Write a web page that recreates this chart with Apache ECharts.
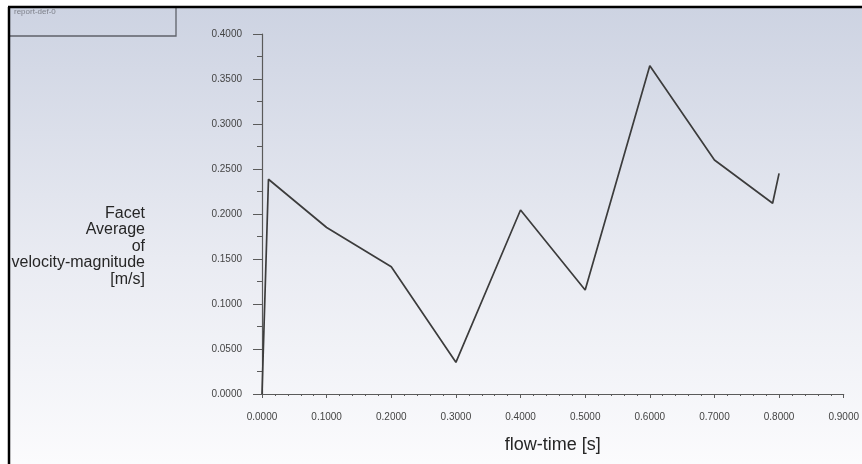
<!DOCTYPE html>
<html>
<head>
<meta charset="utf-8">
<style>
  html, body { margin: 0; padding: 0; background: #ffffff; }
  #chart { width: 862px; height: 464px; }
</style>
<script src="https://cdn.jsdelivr.net/npm/echarts@6/dist/echarts.min.js"></script>
</head>
<body>
<div id="chart"></div>
<script>
// Flow time samples [s] and the facet-averaged velocity magnitude [m/s]
const flowTime = [0.0, 0.01, 0.1, 0.2, 0.3, 0.4, 0.5, 0.6, 0.7, 0.79, 0.8];
const velocityMag = [0.0, 0.2386, 0.185, 0.1414, 0.0352, 0.2044, 0.1156, 0.3648, 0.26, 0.2119, 0.2452];

const reportName = 'report-def-0';
const yTitleLines = ['Facet', 'Average', 'of', 'velocity-magnitude', '[m/s]'];
const xTitle = 'flow-time [s]';

const chart = echarts.init(document.getElementById('chart'), null, { renderer: 'canvas' });

const axisGray = '#5a5a5a';
const labelStyle = { color: '#444', fontFamily: 'Liberation Sans, Arial, sans-serif', fontSize: 10 };

chart.setOption({
  animation: false,
  backgroundColor: '#ffffff',
  grid: { left: 262, right: 14, top: 34, bottom: 70, containLabel: false },
  graphic: [
    // panel background gradient
    {
      type: 'rect', z: -10, silent: true,
      shape: { x: 8, y: 7, width: 854, height: 457 },
      style: {
        fill: new echarts.graphic.LinearGradient(0, 0, 0, 1, [
          { offset: 0, color: '#cdd3e2' },
          { offset: 0.55, color: '#e9ebf2' },
          { offset: 1, color: '#fbfbfd' }
        ])
      }
    },
    // outer frame
    { type: 'line', z: 20, silent: true, shape: { x1: 8, y1: 7, x2: 862, y2: 7 }, style: { stroke: '#000', lineWidth: 2.5 } },
    { type: 'line', z: 20, silent: true, shape: { x1: 9, y1: 7, x2: 9, y2: 464 }, style: { stroke: '#000', lineWidth: 2.5 } },
    // legend box
    { type: 'polyline', z: 15, silent: true, shape: { points: [[176, 8], [176, 36], [10, 36]] }, style: { stroke: '#5f626a', lineWidth: 1.3, fill: null } },
    { type: 'text', z: 16, silent: true, left: 14, top: 8, style: { text: reportName, fill: '#7e818a', font: '8px Liberation Sans, Arial, sans-serif' } },
    // y axis title (multi-line, right aligned)
    {
      type: 'text', z: 16, silent: true,
      style: {
        x: 145, y: 205,
        text: yTitleLines.join('\n'),
        fill: '#262626',
        font: '16px Liberation Sans, Arial, sans-serif',
        align: 'right', verticalAlign: 'top',
        lineHeight: 16.5
      }
    }
  ],
  xAxis: {
    type: 'value',
    min: 0, max: 0.9, interval: 0.1,
    name: xTitle,
    nameLocation: 'middle',
    nameGap: 42,
    nameTextStyle: { color: '#262626', fontSize: 18, fontFamily: 'Liberation Sans, Arial, sans-serif' },
    axisLine: { show: true, lineStyle: { color: axisGray, width: 1.2 } },
    axisTick: { show: true, inside: false, length: 4, lineStyle: { color: axisGray } },
    minorTick: { show: true, splitNumber: 5, length: 2, lineStyle: { color: axisGray } },
    splitLine: { show: false },
    axisLabel: Object.assign({ margin: 18, formatter: v => v.toFixed(4) }, labelStyle)
  },
  yAxis: {
    type: 'value',
    min: 0, max: 0.4, interval: 0.05,
    axisLine: { show: true, lineStyle: { color: axisGray, width: 1.2 } },
    axisTick: { show: true, inside: false, length: 9, lineStyle: { color: axisGray } },
    minorTick: { show: true, splitNumber: 2, length: 5, lineStyle: { color: axisGray } },
    splitLine: { show: false },
    axisLabel: Object.assign({ margin: 20, formatter: v => v.toFixed(4) }, labelStyle)
  },
  series: [{
    type: 'line',
    data: flowTime.map((t, i) => [t, velocityMag[i]]),
    showSymbol: false,
    lineStyle: { color: '#3c3c3c', width: 1.7 },
    silent: true
  }]
});
</script>
</body>
</html>
